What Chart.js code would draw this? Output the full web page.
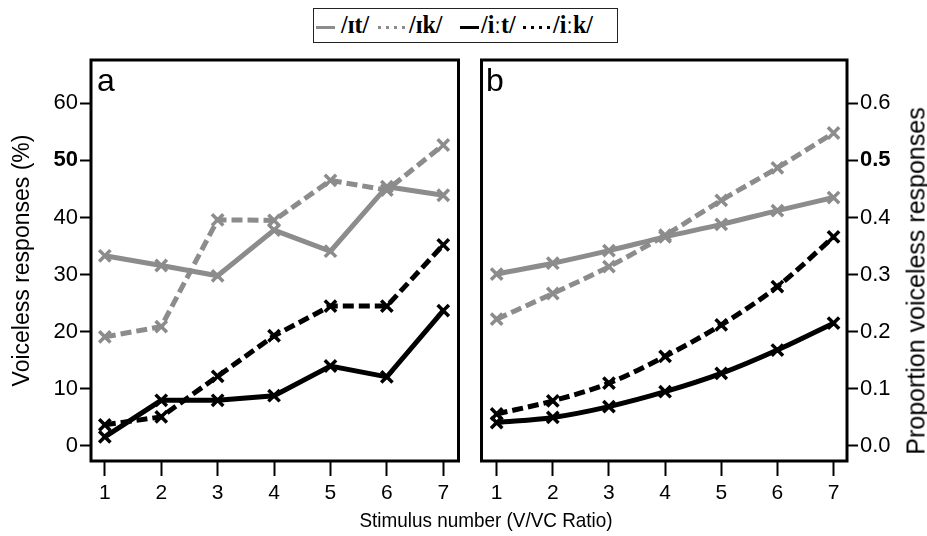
<!DOCTYPE html>
<html>
<head>
<meta charset="utf-8">
<script src="https://cdn.jsdelivr.net/npm/chart.js@4.4.1/dist/chart.umd.min.js"></script>
<style>
  body { margin: 0; width: 927px; height: 536px; background: #fff; position: relative; overflow: hidden; font-family: "Liberation Sans", Arial, sans-serif; }
  #canA { position: absolute; left: 0; top: 0; }
  #canB { position: absolute; left: 470px; top: 0; }
  .panel { position: absolute; font-size: 32px; color: #000; line-height: 1; }
  #xTitle { position: absolute; left: 0; width: 972px; top: 508px; text-align: center; font-size: 21px; transform: scaleX(0.9); transform-origin: 486px 0; }
  #yTitleR { position: absolute; left: 916px; top: 281px; font-size: 25px; white-space: nowrap; transform: translate(-50%, -50%) rotate(-90deg); }
  #legend { position: absolute; left: 313px; top: 8px; width: 303px; height: 33px; border: 1.5px solid #222; font-family: "Liberation Serif", "Times New Roman", serif; font-size: 26px; font-weight: bold; }
  .smp { position: absolute; top: 17px; height: 3px; }
  .lt { position: absolute; top: 1px; line-height: 30px; transform: scaleX(0.92); transform-origin: 0 0; }
</style>
</head>
<body>
<div id="legend"></div>
<canvas id="canA" width="470" height="536"></canvas>
<canvas id="canB" width="457" height="536"></canvas>
<div class="panel" style="left:97px;top:64px">a</div>
<div class="panel" style="left:486px;top:64px">b</div>
<div id="xTitle">Stimulus number (V/VC Ratio)</div>
<div id="yTitleR">Proportion voiceless responses</div>
<script>
// data
const stimulus = [1, 2, 3, 4, 5, 6, 7];
const seriesNames = ["/ɪt/", "/ɪk/", "/iːt/", "/iːk/"];

// panel a: observed voiceless responses (%)
const obsIt = [33.3, 31.6, 29.8, 37.8, 34.1, 45.4, 43.9];
const obsIk = [19.1, 20.9, 39.6, 39.5, 46.5, 44.8, 52.7];
const obsIIt = [1.6, 8.0, 8.0, 8.8, 14.0, 12.1, 23.7];
const obsIIk = [3.7, 5.1, 12.2, 19.3, 24.5, 24.5, 35.2];

// panel b: fitted proportions
const fitIt = [0.301, 0.320, 0.342, 0.366, 0.388, 0.412, 0.435];
const fitIk = [0.222, 0.267, 0.314, 0.369, 0.430, 0.487, 0.548];
const fitIIt = [0.041, 0.050, 0.069, 0.095, 0.127, 0.168, 0.215];
const fitIIk = [0.056, 0.079, 0.110, 0.157, 0.212, 0.279, 0.366];

const ticksA = [0, 10, 20, 30, 40, 50, 60];
const ticksB = [0, 0.1, 0.2, 0.3, 0.4, 0.5, 0.6];

const GRAY = "#8c8c8c";
const styles = [
  { color: GRAY, dash: [] },
  { color: GRAY, dash: [11, 5] },
  { color: "#000", dash: [] },
  { color: "#000", dash: [11, 5] }
];

// legend: sample x, sample width, text x (px inside the box)
const legSample = [[2, 19], [64, 30], [146, 19], [209, 27]];
const legText = [27, 95, 167, 239];
const leg = document.getElementById("legend");
seriesNames.forEach((n, i) => {
  const s = document.createElement("span");
  s.className = "smp";
  s.style.left = legSample[i][0] + "px";
  s.style.width = legSample[i][1] + "px";
  s.style.background = i % 2
    ? "repeating-linear-gradient(90deg," + styles[i].color + " 0 3px, transparent 3px 8px)"
    : styles[i].color;
  leg.appendChild(s);
  const t = document.createElement("span");
  t.className = "lt";
  t.style.left = legText[i] + "px";
  t.textContent = n;
  leg.appendChild(t);
});

const boxPlugin = {
  id: "box",
  afterDraw(chart) {
    const { ctx, chartArea: a } = chart;
    ctx.save();
    ctx.lineWidth = 3;
    ctx.strokeStyle = "#000";
    ctx.strokeRect(a.left, a.top, a.right - a.left, a.bottom - a.top);
    ctx.restore();
  }
};

function makeSets(lists, smooth) {
  return lists.map((vals, i) => ({
    label: seriesNames[i],
    data: stimulus.map((x, k) => ({ x: x, y: vals[k] })),
    borderColor: styles[i].color,
    borderDash: styles[i].dash,
    borderWidth: 5,
    pointStyle: "crossRot",
    pointRadius: 8,
    pointBorderWidth: 3.5,
    pointBorderColor: styles[i].color,
    cubicInterpolationMode: smooth ? "monotone" : "default",
    fill: false
  }));
}

function xScale(min, max) {
  return {
    type: "linear", min: min, max: max,
    afterBuildTicks: s => { s.ticks = stimulus.map(v => ({ value: v })); },
    afterFit: s => { s.height = 75; },
    border: { display: false },
    grid: { drawOnChartArea: false, tickLength: 15, tickWidth: 2, tickColor: "#000" },
    ticks: { color: "#000", font: { size: 21 }, padding: 5, maxRotation: 0 }
  };
}

function yScale(min, max, ticks, pos, width, fmt, bold) {
  return {
    type: "linear", position: pos, min: min, max: max,
    afterBuildTicks: s => { s.ticks = ticks.map(v => ({ value: v })); },
    afterFit: s => { s.width = width; },
    border: { display: false },
    grid: { drawOnChartArea: false, tickLength: 11, tickWidth: 2, tickColor: "#000" },
    ticks: {
      color: "#000", padding: 2,
      callback: v => fmt(v),
      font: c => ({ size: 22, weight: c.tick && Math.abs(c.tick.value - bold) < 1e-9 ? "bold" : "normal" })
    }
  };
}

const common = {
  responsive: false,
  animation: false,
  plugins: { legend: { display: false }, tooltip: { enabled: false } }
};

new Chart(document.getElementById("canA"), {
  type: "line",
  data: { datasets: makeSets([obsIt, obsIk, obsIIt, obsIIk], false) },
  plugins: [boxPlugin],
  options: Object.assign({}, common, {
    layout: { padding: { top: 60, right: 8, left: 0, bottom: 0 } },
    scales: {
      x: xScale(0.755, 7.27),
      y: Object.assign(yScale(-2.63, 67.58, ticksA, "left", 91, v => String(v), 50), {
        title: { display: true, text: "Voiceless responses (%)", color: "#000", font: { size: 23 }, padding: { top: 9 } }
      })
    }
  })
});

new Chart(document.getElementById("canB"), {
  type: "line",
  data: { datasets: makeSets([fitIt, fitIk, fitIIt, fitIIk], true) },
  plugins: [boxPlugin],
  options: Object.assign({}, common, {
    layout: { padding: { top: 60, right: 0, left: 7, bottom: 0 } },
    scales: {
      x: xScale(0.73, 7.24),
      y: yScale(-0.0263, 0.6758, ticksB, "right", 80, v => v.toFixed(1), 0.5)
    }
  })
});
</script>
</body>
</html>
